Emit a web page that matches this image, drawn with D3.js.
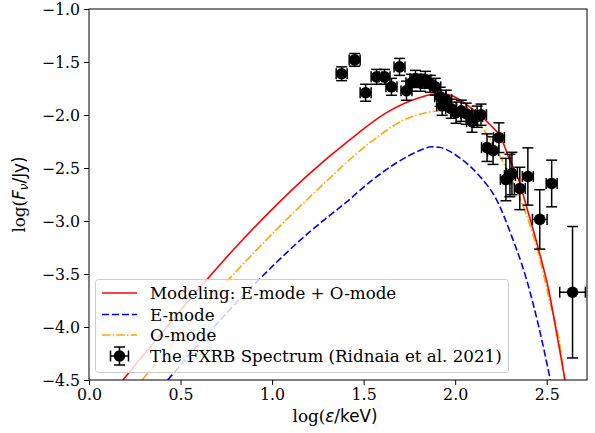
<!DOCTYPE html>
<html><head><meta charset="utf-8">
<script src="https://cdn.jsdelivr.net/npm/d3@7"></script>
<style>body{margin:0;background:#fff}svg{display:block}</style>
</head><body>
<script>
// Data points (FXRB spectrum)
const dataX   = [1.380,1.451,1.511,1.571,1.614,1.652,1.696,1.734,1.761,1.783,1.810,1.837,1.864,1.891,1.918,1.929,1.951,1.978,2.005,2.033,2.060,2.092,2.120,2.141,2.174,2.207,2.239,2.277,2.299,2.310,2.353,2.397,2.462,2.527,2.641];
const dataY   = [-1.611,-1.480,-1.790,-1.640,-1.640,-1.734,-1.546,-1.771,-1.696,-1.659,-1.696,-1.668,-1.706,-1.734,-1.828,-1.913,-1.856,-1.941,-1.978,-1.960,-1.988,-2.063,-2.016,-1.997,-2.308,-2.336,-2.214,-2.609,-2.571,-2.552,-2.693,-2.580,-2.985,-2.646,-3.672];
const dataYerr= [0.065,0.06,0.08,0.07,0.07,0.08,0.08,0.09,0.08,0.08,0.08,0.08,0.08,0.08,0.09,0.09,0.09,0.09,0.10,0.10,0.10,0.10,0.10,0.10,0.13,0.13,0.14,0.20,0.20,0.20,0.20,0.27,0.28,0.22,0.62];
const dataXerr= [0.03,0.03,0.03,0.03,0.03,0.03,0.03,0.03,0.03,0.03,0.03,0.03,0.03,0.03,0.03,0.03,0.03,0.03,0.03,0.03,0.03,0.03,0.03,0.03,0.03,0.03,0.03,0.03,0.03,0.03,0.03,0.03,0.04,0.03,0.07];

// Model curves
const totalX = [0.185,0.4,0.6,0.8,1.0,1.2,1.424,1.625,1.804,1.9,1.967,2.092,2.185,2.25,2.293,2.348,2.391,2.457,2.511,2.554,2.600];
const totalY = [-4.5,-4.05,-3.64,-3.25,-2.89,-2.56,-2.235,-1.978,-1.837,-1.80,-1.81,-1.941,-2.082,-2.214,-2.402,-2.618,-2.872,-3.277,-3.653,-4.057,-4.5];
const eModeX = [0.43,0.6,0.8,1.0,1.2,1.4,1.55,1.7,1.8,1.87,1.913,2.022,2.13,2.228,2.31,2.386,2.457,2.52];
const eModeY = [-4.5,-4.16,-3.78,-3.43,-3.11,-2.83,-2.61,-2.43,-2.34,-2.30,-2.305,-2.40,-2.57,-2.806,-3.15,-3.53,-4.0,-4.5];
const oModeX = [0.29,0.5,0.7,0.9,1.1,1.3,1.45,1.549,1.734,1.85,1.94,2.0,2.07,2.13,2.2,2.266,2.348,2.386,2.457,2.511,2.576,2.597];
const oModeY = [-4.5,-4.07,-3.67,-3.30,-2.95,-2.62,-2.38,-2.242,-2.035,-1.975,-1.96,-1.975,-2.02,-2.09,-2.25,-2.46,-2.76,-2.93,-3.32,-3.72,-4.22,-4.5];

const xTicks = [0.0,0.5,1.0,1.5,2.0,2.5];
const yTicks = [-1.0,-1.5,-2.0,-2.5,-3.0,-3.5,-4.0,-4.5];
const legendLabels = ["Modeling: E-mode + O-mode","E-mode","O-mode","The FXRB Spectrum (Ridnaia et al. 2021)"];

const W=595,H=433;
const L=89,R=587,T=9,B=380;
const svg=d3.select("body").append("svg").attr("width",W).attr("height",H);
const x=d3.scaleLinear().domain([0,2.72]).range([L,R]);
const y=d3.scaleLinear().domain([-4.5,-1.0]).range([B,T]);
const serif="'DejaVu Serif', serif", sans="'DejaVu Sans', sans-serif";

svg.append("defs").append("clipPath").attr("id","clip").append("rect")
  .attr("x",L).attr("y",T).attr("width",R-L).attr("height",B-T);

const line=d3.line().x(d=>x(d[0])).y(d=>y(d[1])).curve(d3.curveMonotoneX);
const g=svg.append("g").attr("clip-path","url(#clip)");
g.append("path").datum(d3.zip(eModeX,eModeY)).attr("d",line).attr("fill","none")
  .attr("stroke","#0000ff").attr("stroke-width",1.6).attr("stroke-dasharray","7,3");
g.append("path").datum(d3.zip(oModeX,oModeY)).attr("d",line).attr("fill","none")
  .attr("stroke","#ffa500").attr("stroke-width",1.6).attr("stroke-dasharray","8.5,2.2,1.4,2.2");
g.append("path").datum(d3.zip(totalX,totalY)).attr("d",line).attr("fill","none")
  .attr("stroke","#ff0000").attr("stroke-width",1.6);

// error bars
const pts=dataX.map((d,i)=>({x:d,y:dataY[i],ye:dataYerr[i],xe:dataXerr[i]}));
const eg=g.append("g").attr("stroke","#000").attr("stroke-width",1.5);
const cap=5.5;
pts.forEach(p=>{
  const cx=x(p.x),cy=y(p.y),y0=y(p.y-p.ye),y1=y(p.y+p.ye),x0=x(p.x-p.xe),x1=x(p.x+p.xe);
  eg.append("line").attr("x1",cx).attr("x2",cx).attr("y1",y0).attr("y2",y1);
  eg.append("line").attr("x1",x0).attr("x2",x1).attr("y1",cy).attr("y2",cy);
  eg.append("line").attr("x1",cx-cap).attr("x2",cx+cap).attr("y1",y0).attr("y2",y0);
  eg.append("line").attr("x1",cx-cap).attr("x2",cx+cap).attr("y1",y1).attr("y2",y1);
  eg.append("line").attr("x1",x0).attr("x2",x0).attr("y1",cy-cap).attr("y2",cy+cap);
  eg.append("line").attr("x1",x1).attr("x2",x1).attr("y1",cy-cap).attr("y2",cy+cap);
});
g.append("g").selectAll("circle").data(pts).join("circle")
  .attr("cx",d=>x(d.x)).attr("cy",d=>y(d.y)).attr("r",5.8).attr("fill","#000");

// axes
const fs=15.8, lfs=16.7;
const xa=svg.append("g").attr("transform",`translate(0,${B})`)
  .call(d3.axisBottom(x).tickValues(xTicks).tickFormat(d3.format(".1f")).tickSize(5).tickPadding(4));
const ya=svg.append("g").attr("transform",`translate(${L},0)`)
  .call(d3.axisLeft(y).tickValues(yTicks).tickFormat(d=>d3.format(".1f")(d).replace("-","\u2212")).tickSize(5).tickPadding(4));
[xa,ya].forEach(a=>{a.select(".domain").remove();a.selectAll("line").attr("stroke","#000").attr("stroke-width",1);
  a.selectAll("text").attr("font-family",serif).attr("font-size",fs).attr("fill","#000");});
svg.append("rect").attr("x",L).attr("y",T).attr("width",R-L).attr("height",B-T)
  .attr("fill","none").attr("stroke","#000").attr("stroke-width",1);

// axis labels
const xl=svg.append("text").attr("x",335).attr("y",422).attr("text-anchor","middle").attr("font-size",16.8).attr("fill","#000");
xl.append("tspan").attr("font-family",serif).text("log(");
xl.append("tspan").attr("font-family",sans).attr("font-style","italic").text("\u03b5");
xl.append("tspan").attr("font-family",sans).text("/keV)");
const yl=svg.append("text").attr("transform",`translate(25,${(T+B)/2}) rotate(-90)`).attr("text-anchor","middle").attr("font-size",16.8).attr("fill","#000");
yl.append("tspan").attr("font-family",serif).text("log(");
yl.append("tspan").attr("font-family",sans).attr("font-style","italic").text("F");
yl.append("tspan").attr("font-family",sans).attr("font-style","italic").attr("font-size",12).attr("dy",3).text("\u03bd");
yl.append("tspan").attr("font-family",sans).attr("dy",-3).text("/Jy)");

// legend
const lg=svg.append("g");
lg.append("rect").attr("x",95.5).attr("y",279.5).attr("width",413).attr("height",93).attr("rx",3)
  .attr("fill","#fff").attr("fill-opacity",0.8).attr("stroke","#ccc").attr("stroke-width",1);
const rowsY=[293,314.5,335,356];
const hx0=102,hx1=137;
lg.append("line").attr("x1",hx0).attr("x2",hx1).attr("y1",rowsY[0]).attr("y2",rowsY[0]).attr("stroke","#ff0000").attr("stroke-width",1.6);
lg.append("line").attr("x1",hx0).attr("x2",hx1).attr("y1",rowsY[1]).attr("y2",rowsY[1]).attr("stroke","#0000ff").attr("stroke-width",1.6).attr("stroke-dasharray","7,3");
lg.append("line").attr("x1",hx0).attr("x2",hx1).attr("y1",rowsY[2]).attr("y2",rowsY[2]).attr("stroke","#ffa500").attr("stroke-width",1.6).attr("stroke-dasharray","8.5,2.2,1.4,2.2");
const mx=(hx0+hx1)/2,my=rowsY[3];
const lh=lg.append("g").attr("stroke","#000").attr("stroke-width",1.5);
lh.append("line").attr("x1",mx-9).attr("x2",mx+9).attr("y1",my).attr("y2",my);
lh.append("line").attr("x1",mx).attr("x2",mx).attr("y1",my-9).attr("y2",my+9);
lh.append("line").attr("x1",mx-cap).attr("x2",mx+cap).attr("y1",my-9).attr("y2",my-9);
lh.append("line").attr("x1",mx-cap).attr("x2",mx+cap).attr("y1",my+9).attr("y2",my+9);
lh.append("line").attr("x1",mx-9).attr("x2",mx-9).attr("y1",my-cap).attr("y2",my+cap);
lh.append("line").attr("x1",mx+9).attr("x2",mx+9).attr("y1",my-cap).attr("y2",my+cap);
lg.append("circle").attr("cx",mx).attr("cy",my).attr("r",5.8).attr("fill","#000");
legendLabels.forEach((t,i)=>{
  lg.append("text").attr("x",150).attr("y",rowsY[i]+6).attr("font-family",serif).attr("font-size",lfs).attr("fill","#000").text(t);
});
</script>
</body></html>
